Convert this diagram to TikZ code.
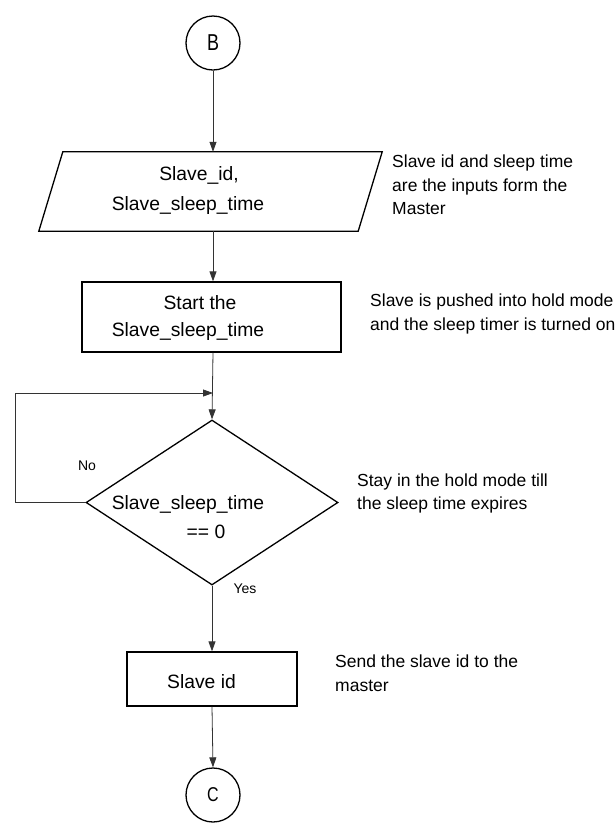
\documentclass[tikz,border=0pt]{standalone}
\usepackage{fontspec}
\setmainfont{Liberation Sans}
\usetikzlibrary{shapes.geometric,arrows.meta}

\begin{document}
\begin{tikzpicture}[x=1pt,y=-1pt,
  shapeline/.style={draw=black,line width=1.3pt,inner sep=0pt},
  line/.style={font=\fontsize{19.3}{23}\selectfont,inner sep=0pt,anchor=base},
  note/.style={font=\fontsize{17.5}{23.5}\selectfont,align=left,anchor=west,inner sep=0pt},
  small/.style={font=\fontsize{14}{16}\selectfont,inner sep=0pt},
  flow/.style={draw=black!80,line width=0.8pt,-{Triangle[length=10pt,width=7pt]}},
  connector/.style={shapeline,circle,minimum size=54pt}
]
\useasboundingbox (0,0) rectangle (615,831);

% flow shapes
\node[connector,font=\fontsize{23}{26}\selectfont] (B) at (213,43) {\scalebox{0.78}[1]{B}};
% input parallelogram: frame drawn around an empty placeholder node
\node[inner sep=0pt,minimum width=319pt,minimum height=79pt] (inp) at (210.5,191.5) {};
\draw[line width=1.3pt] ([xshift=12pt]inp.north west) -- ([xshift=12pt]inp.north east)
  -- ([xshift=-12pt]inp.south east) -- ([xshift=-12pt]inp.south west) -- cycle;
\node[shapeline,rectangle,minimum width=259pt,minimum height=70pt] (start) at (211.5,317) {};
\node[shapeline,diamond,minimum width=252pt,minimum height=165pt] (dec) at (212,502.5) {};
\node[shapeline,rectangle,minimum width=170pt,minimum height=54pt] (send) at (212,679) {};
\node[connector,font=\fontsize{20}{24}\selectfont] (C) at (213,795) {\scalebox{0.8}[1]{C}};

% texts inside the shapes, one node per line
\node[line] (inp1) at (199,180) {Slave\_id,};
\node[line] (inp2) at (188,210) {Slave\_sleep\_time};
\node[line] (start1) at (200,309) {Start the};
\node[line] (start2) at (188,336.5) {Slave\_sleep\_time};
\node[line] (dec1) at (188,509) {Slave\_sleep\_time};
\node[line] (dec2) at (206,538) {== 0};
\node[line] (send1) at (201.5,688) {Slave id};

% side notes
\node[note] (n1) at (392,185) {Slave id and sleep time\\are the inputs form the\\Master};
\node[note] (n2) at (370,314) {Slave is pushed into hold mode\\and the sleep timer is turned on};
\node[note] (n3) at (357,493.5) {Stay in the hold mode till\\the sleep time expires};
\node[note] (n4) at (335,673) {Send the slave id to the\\master};

% branch labels
\node[small] (no) at (87,466) {No};
\node[small] (yes) at (245,589) {Yes};

% connectors
\coordinate (join) at (213,393);
\draw[flow] (B.south) -- (B.south |- inp.north);
\draw[flow] (B.south |- inp.south) -- (B.south |- start.north);
\draw[flow] (B.south |- start.south) -- (dec.north);
\draw[flow] (dec.west) -- (15,502.5) |- (join);
\draw[flow] (dec.south) -- (send.north);
\draw[flow] (send.south) -- (C.north);
\end{tikzpicture}
\end{document}
